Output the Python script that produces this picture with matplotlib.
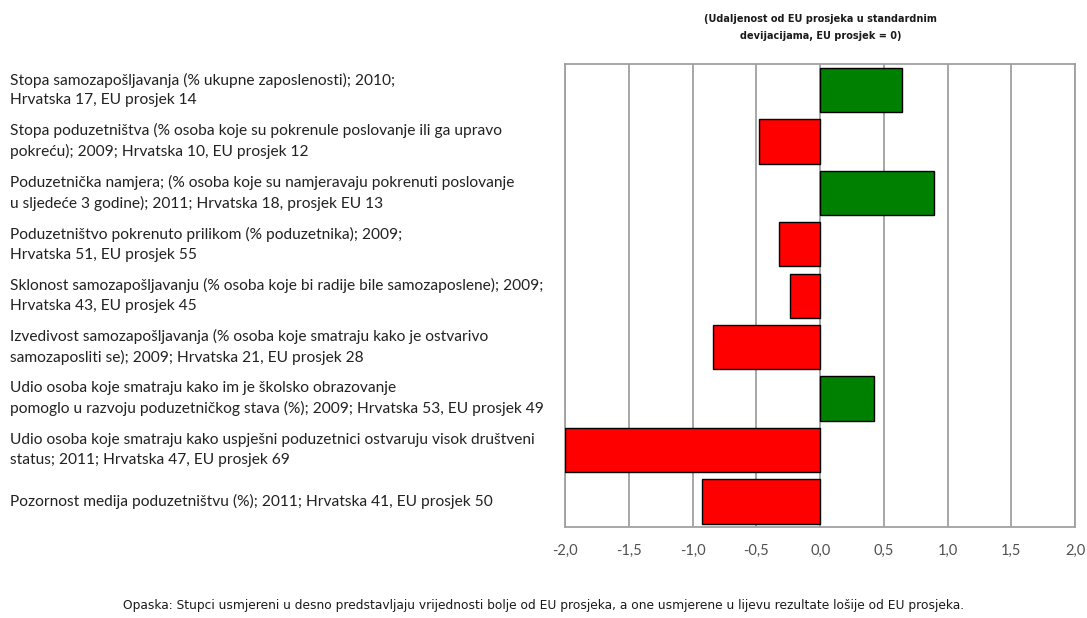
import matplotlib.pyplot as plt
import matplotlib.transforms as mtransforms

# Indicator labels (top to bottom)
labels = [
    "Stopa samozapošljavanja (% ukupne zaposlenosti); 2010;\nHrvatska 17, EU prosjek 14",
    "Stopa poduzetništva (% osoba koje su pokrenule poslovanje ili ga upravo\npokreću); 2009; Hrvatska 10, EU prosjek 12",
    "Poduzetnička namjera; (% osoba koje su namjeravaju pokrenuti poslovanje\nu sljedeće 3 godine); 2011; Hrvatska 18, prosjek EU 13",
    "Poduzetništvo pokrenuto prilikom (% poduzetnika); 2009;\nHrvatska 51, EU prosjek 55",
    "Sklonost samozapošljavanju (% osoba koje bi radije bile samozaposlene); 2009;\nHrvatska 43, EU prosjek 45",
    "Izvedivost samozapošljavanja (% osoba koje smatraju kako je ostvarivo\nsamozaposliti se); 2009; Hrvatska 21, EU prosjek 28",
    "Udio osoba koje smatraju kako im je školsko obrazovanje\npomoglo u razvoju poduzetničkog stava (%); 2009; Hrvatska 53, EU prosjek 49",
    "Udio osoba koje smatraju kako uspješni poduzetnici ostvaruju visok društveni\nstatus; 2011; Hrvatska 47, EU prosjek 69",
    "Pozornost medija poduzetništvu (%); 2011; Hrvatska 41, EU prosjek 50",
]
# Distance from EU average in standard deviations
values = [0.64, -0.48, 0.89, -0.32, -0.24, -0.84, 0.42, -2.0, -0.93]

ticks = [-2.0, -1.5, -1.0, -0.5, 0.0, 0.5, 1.0, 1.5, 2.0]

plt.rcParams['font.family'] = ['Lato', 'DejaVu Sans']

fig = plt.figure(figsize=(10.87, 6.18), dpi=100)
ax = fig.add_axes([0.52, 0.147, 0.469, 0.749])

pos = list(range(len(values)))
colors = ['#008000' if v > 0 else '#ff0000' for v in values]
ax.barh(pos, values, height=0.86, color=colors, edgecolor='black', linewidth=1.0, zorder=3)

ax.set_xlim(-2.0, 2.0)
ax.set_ylim(len(values) - 0.5, -0.5)
ax.set_xticks(ticks)
ax.set_xticklabels([f"{t:.1f}".replace('.', ',') for t in ticks], color='#505050', fontsize=10.5)
ax.set_yticks([])
ax.tick_params(axis='x', length=0, pad=12)
ax.grid(axis='x', color='#a0a0a0', linewidth=1.3, zorder=0)
for s in ax.spines.values():
    s.set_color('#a0a0a0')
    s.set_linewidth(1.3)

# left-hand indicator labels
trans = mtransforms.blended_transform_factory(fig.transFigure, ax.transData)
for i, lab in enumerate(labels):
    ax.text(0.009, i, lab, transform=trans, ha='left', va='center',
            fontsize=11.2, color='#222222', linespacing=1.5, clip_on=False)

# header note
fig.text(0.755, 0.955, "(Udaljenost od EU prosjeka u standardnim\ndevijacijama, EU prosjek = 0)",
         ha='center', va='center', fontsize=7.0, fontweight='bold', color='#1a1a1a',
         linespacing=1.9, family='DejaVu Sans')

# footnote
fig.text(0.5, 0.021, "Opaska: Stupci usmjereni u desno predstavljaju vrijednosti bolje od EU prosjeka, "
         "a one usmjerene u lijevu rezultate lošije od EU prosjeka.",
         ha='center', va='center', fontsize=8.8, color='#1a1a1a', family='DejaVu Sans')

fig.savefig('out.png', dpi=100)
